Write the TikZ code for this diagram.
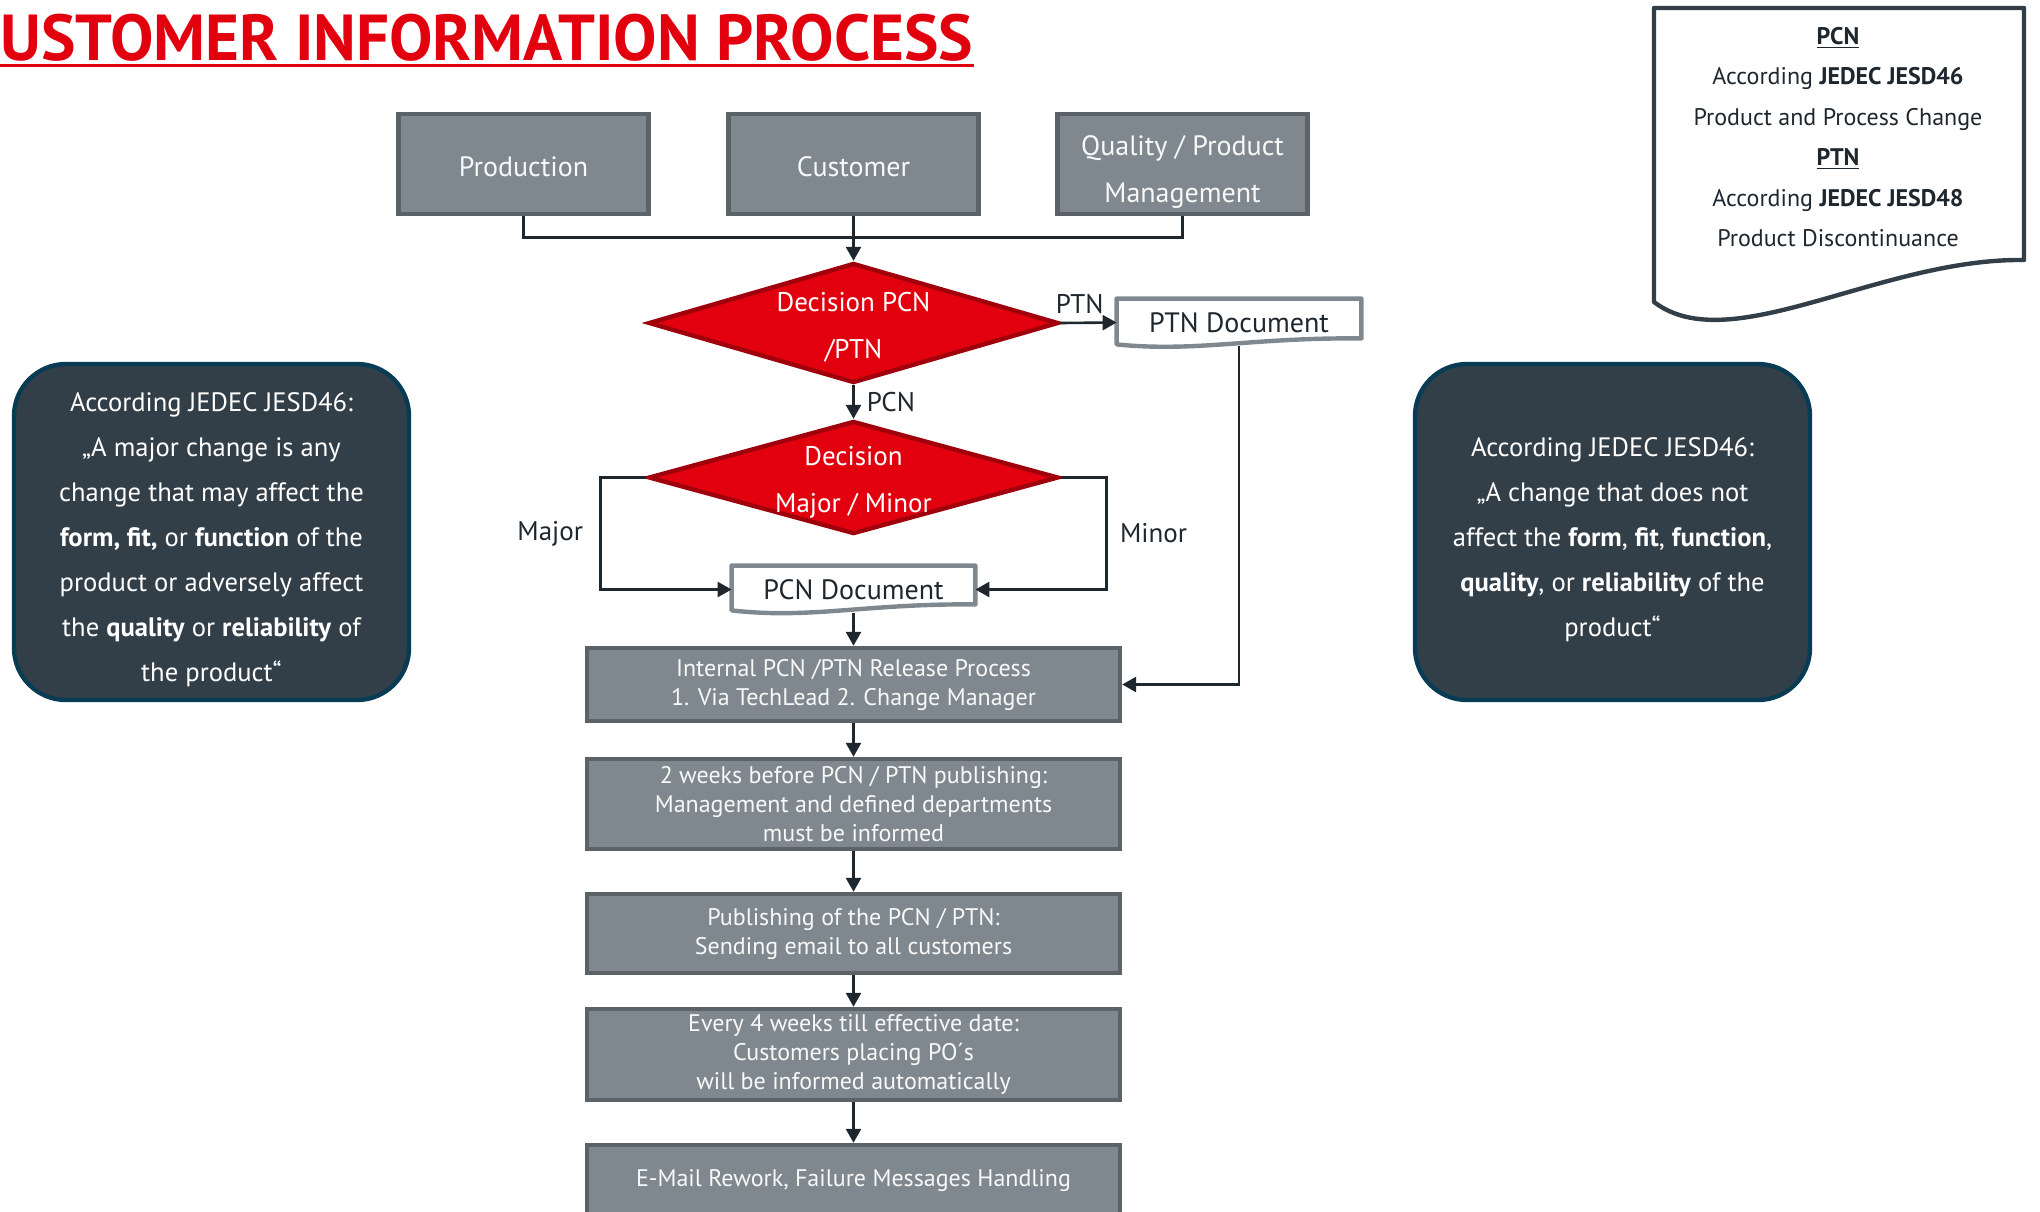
\documentclass[tikz,border=0pt]{standalone}
\usepackage{fontspec}
\setmainfont{PT Sans}
\usetikzlibrary{shapes.geometric, arrows.meta, calc}
\usetikzlibrary{positioning}

\definecolor{boxfill}{RGB}{127,136,142}
\definecolor{boxline}{RGB}{91,99,105}
\definecolor{decfill}{RGB}{226,0,15}
\definecolor{decline}{RGB}{160,0,12}
\definecolor{notefill}{RGB}{51,63,72}
\definecolor{noteline}{RGB}{8,60,84}
\definecolor{linecol}{RGB}{30,38,46}
\definecolor{titlered}{RGB}{226,0,15}

\tikzset{
  flowbox/.style={rectangle, draw=boxline, fill=boxfill, line width=2.2pt,
    text=white!94!boxfill, align=center, inner sep=0pt},
  topbox/.style={flowbox, minimum width=125pt, minimum height=50pt},
  toptext/.style={text=white!94!boxfill, align=center,
    font=\fontsize{14}{23.5}\selectfont},
  stepbox/.style={flowbox, minimum width=266.5pt,
    font=\fontsize{12}{14.5}\selectfont},
  decision/.style={diamond, draw=decline, fill=decfill, line width=2.2pt,
    inner sep=0pt, minimum width=205pt},
  dectext/.style={text=white, align=center, font=\fontsize{13.5}{23.5}\selectfont},
  docnode/.style={rectangle, inner sep=0pt, text=linecol,
    font=\fontsize{14}{16}\selectfont},
  docline/.style={draw=boxfill, line width=2.2pt, line join=round},
  note/.style={rectangle, rounded corners=26pt, draw=noteline, fill=notefill,
    line width=2.2pt, inner sep=0pt, minimum width=197.5pt, minimum height=168pt},
  notetext/.style={text=white, align=center, font=\fontsize{13.3}{22.5}\selectfont},
  lbl/.style={text=linecol, inner sep=2pt, font=\fontsize{13.5}{16}\selectfont},
  conn/.style={draw=linecol, line width=1.3pt},
  arrow/.style={conn, -{Triangle[length=7pt, width=7.5pt]}},
}

\begin{document}
\begin{tikzpicture}[x=0.5pt, y=-0.5pt]
\useasboundingbox (0,0) rectangle (2040,1211);
\clip (0,0) rectangle (2040,1211);

% title
\node[anchor=base west, inner sep=0pt, text=titlered,
  font=\fontsize{32.5}{36}\selectfont\bfseries] (title) at (0,60) {USTOMER INFORMATION PROCESS};
\draw[titlered, line width=1.5pt] ($(title.base west)+(0,5)$) -- ($(title.base east)+(0,5)$);

% sources
\node[topbox, label={[toptext, yshift=-1.5pt]center:Production}] (prod) at (523.5,164) {};
\node[topbox, label={[toptext, yshift=-1.5pt]center:Customer}] (cust) at (853.5,164) {};
\node[topbox, label={[toptext, yshift=-4pt]center:Quality / Product\\Management}] (qual) at (1182.5,164) {};

% decisions
\node[decision, minimum height=60pt,
  label={[dectext, yshift=-2pt]center:Decision PCN\\/PTN}] (dpcn) at (853.5,323) {};
\node[decision, minimum height=56.5pt,
  label={[dectext, yshift=-2.5pt]center:Decision\\Major / Minor}] (dmaj) at (853.5,477.5) {};

% documents
\node[docnode, minimum width=122pt, minimum height=23.5pt] (ptn) at (1239,322.5) {PTN Document};
\draw[docline] (ptn.north west) -- (ptn.north east) -- ($(ptn.south east)+(0,-8)$)
  .. controls ($(ptn.south east)+(-110,-9)$) and ($(ptn.south west)+(80,6)$) .. ($(ptn.south west)+(0,-2)$) -- cycle;
\node[docnode, minimum width=121.5pt, minimum height=23.5pt] (pcn) at (853.5,589.5) {PCN Document};
\draw[docline] (pcn.north west) -- (pcn.north east) -- ($(pcn.south east)+(0,-9)$)
  .. controls ($(pcn.south east)+(-110,-10)$) and ($(pcn.south west)+(80,6)$) .. ($(pcn.south west)+(0,-3)$) -- cycle;

% steps
\node[stepbox, minimum height=36.5pt] (rel) at (853.5,684.5) {Internal PCN /PTN Release Process\\1. Via TechLead 2. Change Manager};
\node[stepbox, minimum height=45pt] (warn) at (853.5,804) {2 weeks before PCN / PTN publishing:\\Management and defined departments\\must be informed};
\node[stepbox, minimum height=39.5pt] (pub) at (853.5,933.5) {Publishing of the PCN / PTN:\\Sending email to all customers};
\node[stepbox, minimum height=45.5pt] (remind) at (853.5,1054.5) {Every 4 weeks till effective date:\\Customers placing PO´s\\will be informed automatically};
\node[stepbox, minimum height=36pt] (rework) at (853.5,1181) {E-Mail Rework, Failure Messages Handling};

% notes
\node[note, label={[notetext, yshift=-4pt]center:According JEDEC JESD46:\\„A major change is any\\change that may affect the\\\textbf{form, fit,} or \textbf{function} of the\\product or adversely affect\\the \textbf{quality} or \textbf{reliability} of\\the product“}] (major) at (211.5,532) {};
\node[note, label={[notetext, yshift=-4pt]center:According JEDEC JESD46:\\„A change that does not\\affect the \textbf{form}, \textbf{fit}, \textbf{function},\\\textbf{quality}, or \textbf{reliability} of the\\product“}] (minor) at (1612.5,532) {};

\draw[draw=notefill, line width=2.2pt, line join=round] (1654,8) -- (2024,8) -- (2024,260)
  .. controls (1880,258) and (1730,360) .. (1654,302) -- cycle;
\node[text=linecol, align=center, inner sep=0pt,
  font=\fontsize{12}{20.2}\selectfont] (legend) at (1838,137)
  {\underline{\textbf{PCN}}\\According \textbf{JEDEC JESD46}\\Product and Process Change\\\underline{\textbf{PTN}}\\According \textbf{JEDEC JESD48}\\Product Discontinuance};

% connectors
\draw[conn] (prod.south) -- ++(0,21) -| (qual.south);
\draw[arrow] (cust.south) -- (dpcn.north);
\draw[arrow] (dpcn.east) -- node[lbl, above, xshift=-4.5pt, yshift=2pt] {PTN} (ptn.west);
\draw[arrow] (dpcn.south) -- node[lbl, right, xshift=4pt] {PCN} (dmaj.north);
\draw[arrow] (dmaj.west) -- ++(-46,0) |- node[lbl, pos=0.25, left, xshift=-6pt] {Major} (pcn.west);
\draw[arrow] (dmaj.east) -- ++(46,0) |- node[lbl, pos=0.25, right, xshift=4pt] {Minor} (pcn.east);
\draw[arrow] (pcn.south) -- (rel.north);
\draw[arrow] (ptn.south) |- (rel.east);
\foreach \a/\b in {rel/warn, warn/pub, pub/remind, remind/rework}
  \draw[arrow] (\a) -- (\b);

\end{tikzpicture}
\end{document}
